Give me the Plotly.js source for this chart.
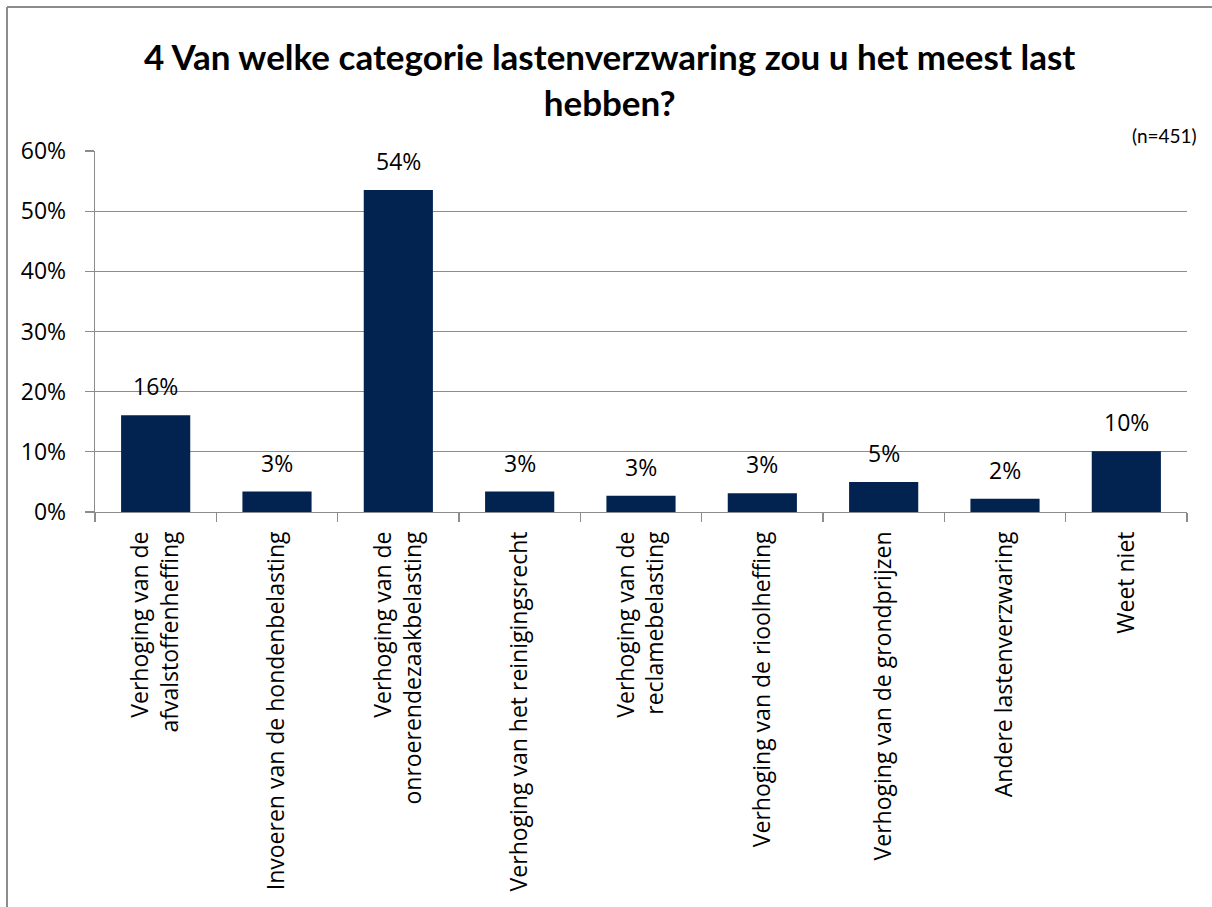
<!DOCTYPE html>
<html>
<head>
<meta charset="utf-8">
<script src="https://cdn.plot.ly/plotly-3.0.1.min.js"></script>
<style>html,body{margin:0;padding:0;background:#fff;}#chart{width:1212px;height:907px;}</style>
</head>
<body>
<div id="chart"></div>
<script>
const categories = [
  "Verhoging van de<br>afvalstoffenheffing",
  "Invoeren van de hondenbelasting",
  "Verhoging van de<br>onroerendezaakbelasting",
  "Verhoging van het reinigingsrecht",
  "Verhoging van de<br>reclamebelasting",
  "Verhoging van de rioolheffing",
  "Verhoging van de grondprijzen",
  "Andere lastenverzwaring",
  "Weet niet"
];
const values = [0.161, 0.034, 0.535, 0.034, 0.027, 0.031, 0.050, 0.022, 0.101];
const yTickVals = [0, 0.1, 0.2, 0.3, 0.4, 0.5, 0.6];
const titleText = "4 Van welke categorie lastenverzwaring zou u het meest last<br>hebben?";
const noteText = "(n=451)";

const W = 1212, H = 907;
const M = {l: 95, r: 25, t: 151, b: 395};
const pw = W - M.l - M.r, ph = H - M.t - M.b;
const px2x = p => (p - M.l) / pw;
const py2y = p => (H - M.b - p) / ph;

const gray = '#8c8c8c';
const labelFont = {family: '"Open Sans", "Noto Sans", sans-serif', size: 23, color: '#000'};
const titleFam = 'Lato, "Open Sans", sans-serif';

const annotations = categories.map((c, i) => ({
  x: c, y: values[i], xref: 'x', yref: 'y',
  text: Math.round(values[i] * 100) + '%',
  showarrow: false, xanchor: 'center', yanchor: 'bottom', yshift: 11,
  font: labelFont
}));
annotations.push({
  xref: 'paper', yref: 'paper', x: px2x(1199), y: py2y(136),
  xanchor: 'right', yanchor: 'middle', showarrow: false,
  text: noteText, font: {family: titleFam, size: 19, color: '#000'}
});

const data = [{
  type: 'bar', x: categories, y: values,
  marker: {color: '#022350', line: {width: 0}},
  hoverinfo: 'skip'
}];

const layout = {
  width: W, height: H, margin: M,
  paper_bgcolor: '#fff', plot_bgcolor: '#fff',
  showlegend: false, bargap: 0.43,
  title: {
    text: titleText, xref: 'container', yref: 'container',
    x: 0.503, xanchor: 'center', y: 1 - 70 / H, yanchor: 'middle',
    font: {family: titleFam, size: 35, color: '#000', weight: 'bold'}
  },
  xaxis: {
    type: 'category', tickangle: -90, tickson: 'boundaries',
    ticks: 'outside', ticklen: 9, tickcolor: gray, tickwidth: 1.3,
    showline: true, linecolor: gray, linewidth: 1.3,
    showgrid: false, tickfont: labelFont, ticklabelstandoff: 9,
    fixedrange: true
  },
  yaxis: {
    range: [0, 0.6], tickvals: yTickVals, tickformat: '.0%',
    ticks: 'outside', ticklen: 9, tickcolor: gray, tickwidth: 1.3,
    showline: true, linecolor: gray, linewidth: 1.3,
    showgrid: true, gridcolor: gray, gridwidth: 1.3,
    zeroline: false, tickfont: labelFont, ticklabelstandoff: 14,
    fixedrange: true
  },
  annotations: annotations,
  shapes: [
    {type: 'line', xref: 'paper', yref: 'paper', x0: px2x(7), x1: px2x(7), y0: py2y(7), y1: py2y(H + 5), line: {color: gray, width: 2}},
    {type: 'line', xref: 'paper', yref: 'paper', x0: px2x(7), x1: px2x(W + 5), y0: py2y(7), y1: py2y(7), line: {color: gray, width: 2}}
  ]
};

Plotly.newPlot('chart', data, layout, {displayModeBar: false, staticPlot: true});
</script>
</body>
</html>
